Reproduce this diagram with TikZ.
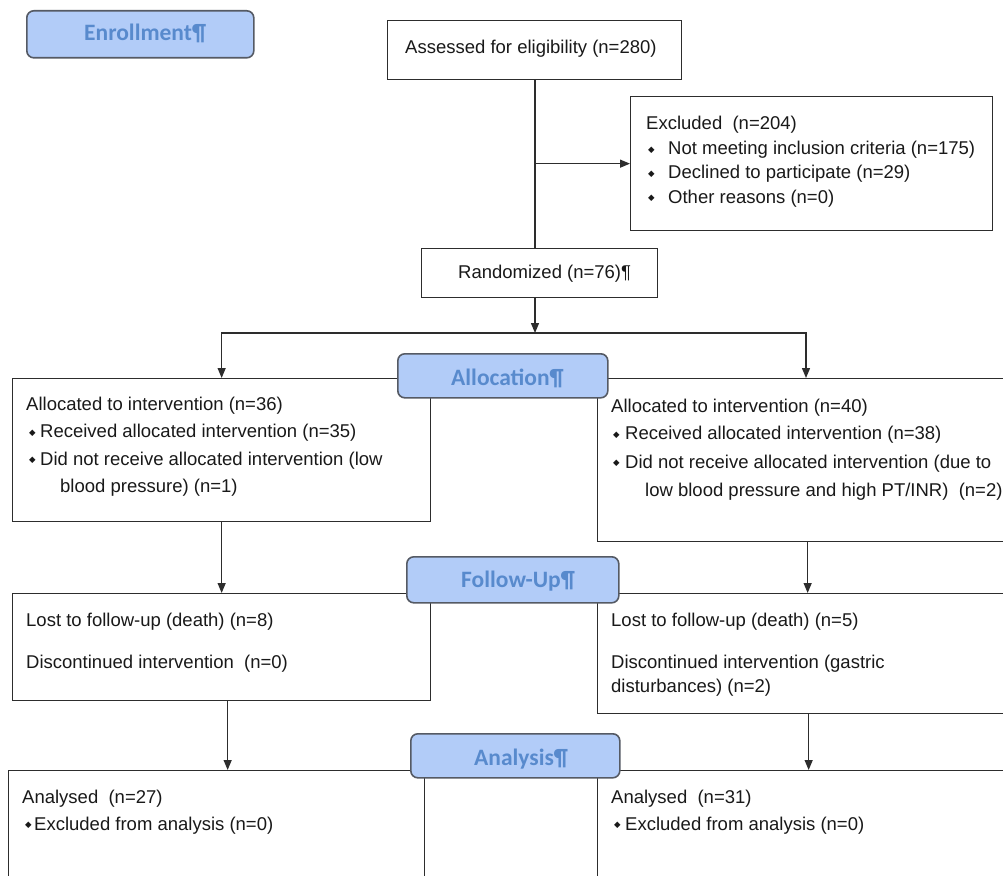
\documentclass[tikz,border=0pt]{standalone}
\usepackage{fontspec}
\setmainfont{Liberation Sans}
\newfontfamily\hdrfont{Carlito}
\newfontfamily\symfont{DejaVu Sans}
\usetikzlibrary{arrows.meta}
\definecolor{hdrfill}{RGB}{178,204,248}
\definecolor{hdrtext}{RGB}{88,138,205}
\definecolor{hdrdraw}{RGB}{85,90,100}
\definecolor{boxdraw}{RGB}{45,45,45}
\definecolor{txtc}{RGB}{25,25,25}
\newcommand\mybul[1]{\makebox[#1][l]{\raisebox{2.3pt}{\symfont\fontsize{8.5}{8.5}\selectfont ◆}}}
\begin{document}
\begin{tikzpicture}[x=1pt,y=-1pt,
  box/.style={draw=boxdraw, line width=1.3pt, inner sep=0pt, anchor=north west},
  hdr/.style={draw=hdrdraw, fill=hdrfill, line width=1.6pt, rounded corners=7pt, inner sep=0pt, anchor=north west},
  hdrtxt/.style={anchor=base west, inner sep=0pt, text=hdrtext, font=\hdrfont\bfseries\fontsize{23.5}{26}\selectfont},
  txt/.style={anchor=base west, inner sep=0pt, text=txtc, font=\fontsize{18.5}{22}\selectfont},
  conn/.style={draw=boxdraw, line width=1.3pt},
  arr/.style={conn, -{Triangle[length=10pt,width=8pt]}}]
\useasboundingbox (0,0) rectangle (1003,875);
\clip (0,0) rectangle (1003,875);
\fill[white] (0,0) rectangle (1003,875);

% boxes
\node[box, minimum width=294pt, minimum height=59pt] (assess) at (387,20) {};
\node[box, minimum width=362pt, minimum height=134pt] (excl) at (630,96) {};
\node[box, minimum width=236pt, minimum height=49pt] (rand) at (421,248) {};
\node[box, minimum width=418pt, minimum height=143pt] (allocL) at (12,378) {};
\node[box, minimum width=420pt, minimum height=163pt] (allocR) at (597,378) {};
\node[box, minimum width=418pt, minimum height=107pt] (fuL) at (12,593) {};
\node[box, minimum width=420pt, minimum height=120pt] (fuR) at (597,593) {};
\node[box, minimum width=416pt, minimum height=130pt] (anL) at (8,770) {};
\node[box, minimum width=420pt, minimum height=130pt] (anR) at (597,770) {};

% connectors
\coordinate (split) at (535,333);
\coordinate (aR) at (806,378);
\draw[conn] (assess.south -| split) -- (rand.north -| split);
\draw[arr] (excl.west -| split) -- (excl.west);
\draw[arr] (rand.south -| split) -- (split);
\draw[arr] (split) -| (allocL.north);
\draw[arr] (split) -| (aR);
\draw[arr] (allocL.south) -- (allocL.south |- fuL.north);
\draw[arr] (allocR.south) -- (allocR.south |- fuR.north);
\draw[arr] ([xshift=6pt]fuL.south) -- ([xshift=6pt]fuL.south |- anL.north);
\draw[arr] ([xshift=1pt]fuR.south) -- ([xshift=1pt]fuR.south |- anR.north);

% headers
\node[hdr, minimum width=227pt, minimum height=47pt] (enr) at (26,10) {};
\node[hdr, minimum width=210pt, minimum height=44pt] (alc) at (397,353) {};
\node[hdr, minimum width=212pt, minimum height=46pt] (fu) at (406,556) {};
\node[hdr, minimum width=209pt, minimum height=44pt] (an) at (410,733) {};
\node[hdrtxt] (enrT) at (84,41) {Enrollment¶};
\node[hdrtxt] (alcT) at (451,385) {Allocation¶};
\node[hdrtxt] (fuT) at (461,587) {Follow-Up¶};
\node[hdrtxt] (anT) at (474,765) {Analysis¶};

% texts
\node[txt] (t1) at (405,54) {Assessed for eligibility (n=280)};
\node[txt] (t2) at (646,129.5) {Excluded\ \ (n=204)};
\node[txt] (t3) at (648,154.5) {\mybul{20pt}Not meeting inclusion criteria (n=175)};
\node[txt] (t4) at (648,178.5) {\mybul{20pt}Declined to participate (n=29)};
\node[txt] (t5) at (648,203) {\mybul{20pt}Other reasons (n=0)};
\node[txt] (t6) at (458,278) {Randomized (n=76)¶};

\node[txt] (t7) at (26,410) {Allocated to intervention (n=36)};
\node[txt] (t8) at (29,437.3) {\mybul{11pt}Received allocated intervention (n=35)};
\node[txt] (t9) at (29,465) {\mybul{11pt}Did not receive allocated intervention (low};
\node[txt] (t10) at (60,492.7) {blood pressure) (n=1)};

\node[txt] (t11) at (611,412.7) {Allocated to intervention (n=40)};
\node[txt] (t12) at (613,439.3) {\mybul{12pt}Received allocated intervention (n=38)};
\node[txt] (t13) at (613,468) {\mybul{12pt}Did not receive allocated intervention (due to};
\node[txt] (t14) at (645,496) {low blood pressure and high PT/INR)\ \ (n=2)};

\node[txt] (t15) at (26,626) {Lost to follow-up (death) (n=8)};
\node[txt] (t16) at (26,668) {Discontinued intervention\ \ (n=0)};
\node[txt] (t17) at (611,626) {Lost to follow-up (death) (n=5)};
\node[txt] (t18) at (611,668) {Discontinued intervention (gastric};
\node[txt] (t19) at (611,692) {disturbances) (n=2)};

\node[txt] (t20) at (22,803) {Analysed\ \ (n=27)};
\node[txt] (t21) at (25,830) {\mybul{9pt}Excluded from analysis (n=0)};
\node[txt] (t22) at (611,803) {Analysed\ \ (n=31)};
\node[txt] (t23) at (614,830) {\mybul{11pt}Excluded from analysis (n=0)};
\end{tikzpicture}
\end{document}
